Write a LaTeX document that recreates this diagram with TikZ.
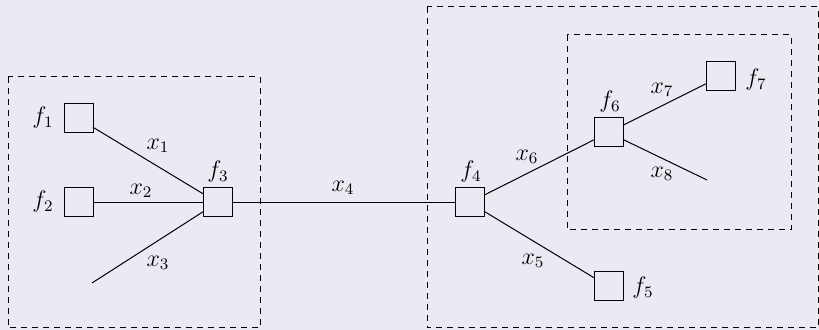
\documentclass[tikz,border=0pt]{standalone}
\definecolor{bgc}{RGB}{234,234,242}
\begin{document}
\begin{tikzpicture}[x=0.5pt,y=-0.5pt,
  fac/.style={draw,line width=0.5pt,minimum size=14.5pt,inner sep=0pt,outer sep=0pt},
  lbl/.style={inner sep=0pt,font=\fontsize{11.5}{13}\selectfont},
  edge/.style={line width=0.5pt},
  grp/.style={draw,line width=0.5pt,dash pattern=on 3pt off 2.5pt}]
\fill[bgc] (0,0) rectangle (819,330);
\useasboundingbox (0,0) rectangle (819,330);
% groups
\draw[grp] (8,77) rectangle (260,328);
\draw[grp] (427,7) rectangle (818,328);
\draw[grp] (567,35) rectangle (791,230);
% factors
\node[fac] (f1) at (78.5,118.5) {};
\node[fac] (f2) at (78.5,202.5) {};
\node[fac] (f3) at (217.5,202.5) {};
\node[fac] (f4) at (469.5,202.5) {};
\node[fac] (f5) at (608.5,286.5) {};
\node[fac] (f6) at (608.5,132.5) {};
\node[fac] (f7) at (720.5,76.5) {};
\coordinate (e3) at (92,283);
\coordinate (e8) at (707,180);
% factor labels
\node[lbl] (lf1) at (43,118) {$f_1$};
\node[lbl] (lf2) at (43,202) {$f_2$};
\node[lbl] (lf3) at (218,172) {$f_3$};
\node[lbl] (lf4) at (471,172) {$f_4$};
\node[lbl] (lf5) at (643,288) {$f_5$};
\node[lbl] (lf6) at (610,102) {$f_6$};
\node[lbl] (lf7) at (756,80) {$f_7$};
% edges
\draw[edge] (f1) -- (f3);
\draw[edge] (f2) -- (f3);
\draw[edge] (f3) -- (e3);
\draw[edge] (f3) -- (f4);
\draw[edge] (f4) -- (f5);
\draw[edge] (f4) -- (f6);
\draw[edge] (f6) -- (f7);
\draw[edge] (f6) -- (e8);
% edge labels
\node[lbl] (lx1) at (158,146) {$x_1$};
\node[lbl] (lx2) at (141,191) {$x_2$};
\node[lbl] (lx3) at (158,263) {$x_3$};
\node[lbl] (lx4) at (343,188) {$x_4$};
\node[lbl] (lx5) at (533,261) {$x_5$};
\node[lbl] (lx6) at (527,157) {$x_6$};
\node[lbl] (lx7) at (662,90) {$x_7$};
\node[lbl] (lx8) at (662,174) {$x_8$};
\end{tikzpicture}
\end{document}
